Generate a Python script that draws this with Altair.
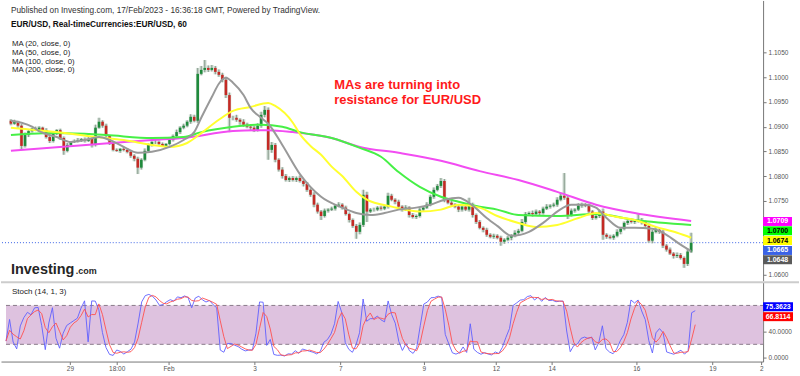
import altair as alt
import pandas as pd

# ---------------- data (EUR/USD, 2-hour candles, prices in pips above 1.0600) ----------------
BASE = 1.0600
first_open_pips = 312
close_pips = [
    306, 310, 302, 261, 283, 291, 296, 293, 298, 293,
    279, 271, 285, 293, 277, 251, 263, 269, 271, 273,
    275, 271, 275, 263, 298, 310, 302, 281, 267, 253,
    251, 255, 253, 249, 241, 235, 217, 233, 251, 263,
    269, 269, 265, 261, 265, 273, 281, 289, 298, 302,
    310, 320, 312, 407, 415, 419, 415, 419, 411, 405,
    395, 364, 318, 318, 314, 310, 304, 300, 298, 293,
    302, 324, 334, 253, 263, 233, 213, 200, 192, 196,
    192, 196, 190, 184, 172, 162, 142, 128, 119, 130,
    132, 134, 140, 142, 136, 123, 111, 99, 87, 101,
    162, 128, 132, 132, 136, 134, 138, 160, 152, 148,
    138, 132, 136, 121, 117, 119, 132, 136, 142, 158,
    172, 180, 190, 152, 146, 142, 138, 132, 138, 132,
    142, 121, 107, 95, 91, 81, 77, 79, 75, 67,
    71, 75, 79, 85, 89, 107, 123, 125, 123, 128,
    125, 134, 138, 140, 142, 152, 160, 156, 121, 130,
    132, 140, 142, 140, 128, 115, 119, 128, 81, 77,
    75, 79, 87, 93, 105, 109, 107, 109, 111, 107,
    99, 69, 87, 91, 87, 59, 51, 43, 38, 40,
    34, 22, 47, 65,
]
hi_wick = [
    3, 4, 2, 3, 5, 3, 2, 4, 3, 2,
    4, 3, 5, 2, 3, 3, 4, 2, 3, 4,
    2, 3, 4, 3, 6, 8, 3, 4, 2, 3,
    3, 2, 4, 3, 2, 3, 4, 3, 5, 3,
    2, 4, 3, 3, 2, 4, 3, 5, 3, 4,
    3, 5, 4, 12, 8, 16, 5, 6, 4, 5,
    4, 6, 5, 4, 6, 3, 5, 4, 3, 4,
    5, 6, 8, 5, 6, 4, 3, 5, 4, 3,
    4, 3, 5, 3, 4, 3, 5, 4, 3, 4,
    3, 4, 3, 5, 3, 4, 3, 3, 4, 5,
    10, 6, 3, 4, 3, 4, 3, 6, 4, 3,
    4, 3, 5, 3, 4, 3, 4, 3, 5, 4,
    5, 4, 6, 4, 3, 5, 3, 4, 3, 5,
    14, 4, 3, 4, 3, 4, 3, 4, 3, 4,
    3, 4, 3, 5, 4, 6, 4, 3, 5, 4,
    3, 4, 5, 3, 4, 5, 6, 46, 5, 4,
    3, 5, 4, 3, 4, 3, 5, 4, 6, 3,
    4, 3, 5, 4, 3, 5, 4, 3, 14, 4,
    3, 5, 4, 6, 3, 4, 3, 4, 3, 5,
    4, 3, 6, 20,
]
lo_wick = [
    3, 2, 4, 8, 3, 4, 3, 2, 4, 3,
    3, 4, 3, 2, 4, 8, 3, 4, 2, 3,
    4, 3, 2, 5, 3, 2, 4, 3, 4, 3,
    2, 4, 3, 3, 4, 5, 13, 4, 3, 2,
    3, 4, 3, 2, 4, 3, 3, 2, 4, 3,
    3, 4, 3, 4, 3, 5, 4, 3, 5, 4,
    5, 6, 29, 5, 4, 6, 4, 3, 5, 4,
    3, 4, 5, 20, 6, 5, 4, 5, 3, 4,
    3, 4, 3, 5, 4, 4, 5, 4, 8, 3,
    4, 3, 4, 3, 4, 3, 5, 4, 14, 5,
    4, 21, 3, 4, 3, 4, 3, 4, 3, 5,
    3, 4, 3, 5, 3, 4, 3, 4, 3, 3,
    4, 3, 4, 5, 3, 4, 3, 5, 4, 3,
    4, 5, 4, 3, 5, 4, 3, 4, 3, 8,
    4, 3, 5, 3, 4, 3, 4, 3, 5, 3,
    4, 3, 3, 4, 3, 4, 3, 4, 8, 3,
    4, 3, 4, 3, 5, 4, 3, 4, 10, 4,
    3, 4, 3, 5, 3, 4, 3, 4, 3, 5,
    4, 4, 5, 3, 4, 5, 4, 3, 5, 4,
    3, 8, 4, 3,
]

# moving averages (bar index, pips)
ma20_k = [0, 3, 6, 8, 13, 17, 21, 25, 28, 32, 36, 40, 45, 49, 52, 54, 57, 59, 61, 63, 66, 68, 71, 73, 77, 82,
          88, 94, 98, 102, 106, 110, 115, 119, 123, 127, 131, 135, 138, 142, 147, 151, 155, 159, 163, 166, 169,
          173, 177, 182, 186, 190, 193]
ma20_p = [312, 308, 300, 291, 279, 269, 273, 279, 273, 259, 247, 249, 259, 273, 289, 318, 360, 387, 399, 389, 364,
          338, 318, 306, 263, 204, 158, 136, 125, 121, 125, 132, 136, 142, 152, 156, 140, 115, 99, 79, 87, 105,
          128, 142, 142, 136, 115, 95, 95, 93, 81, 61, 48]
ma50_k = [0, 13, 24, 32, 40, 45, 50, 54, 59, 63, 68, 73, 75, 80, 82, 85, 88, 91, 94, 98, 101, 108, 116, 122, 127,
          133, 138, 144, 149, 155, 161, 166, 172, 177, 183, 189, 193]
ma50_p = [298, 289, 279, 273, 263, 259, 267, 287, 314, 332, 340, 348, 342, 308, 285, 261, 243, 219, 200, 168, 152,
          138, 128, 132, 142, 136, 119, 105, 97, 101, 115, 125, 117, 111, 97, 85, 75]
ma100_k = [0, 13, 27, 40, 49, 54, 63, 71, 77, 82, 91, 99, 105, 110, 116, 122, 127, 133, 138, 144, 155, 166, 177, 193]
ma100_p = [283, 287, 283, 277, 279, 289, 300, 304, 300, 289, 277, 257, 239, 208, 178, 158, 148, 138, 132, 121, 119,
           123, 111, 101]
ma200_k = [0, 25, 40, 49, 63, 73, 80, 91, 99, 110, 122, 133, 144, 155, 166, 177, 193]
ma200_p = [251, 265, 273, 277, 291, 293, 289, 277, 259, 247, 231, 210, 192, 168, 142, 125, 109]

# time axis labels (bar index where they sit)
tick_k = [17.9, 31.0, 45.5, 69.6, 93.6, 117.0, 137.2, 152.8, 176.5, 197.8, 211.5]
tick_lab = ["29", "18:00", "Feb", "3", "7", "9", "12", "14", "16", "19", "2"]

price_tick_values = [1.0600, 1.0750, 1.0800, 1.0850, 1.0900, 1.0950, 1.1000, 1.1050]
last_price = 1.0665
price_labels = ["1.0709", "1.0700", "1.0674", "1.0665", "1.0648"]
price_label_values = [1.0709, 1.0700, 1.0674, 1.0665, 1.0648]
price_label_bg = ["#ff00ff", "#00ff00", "#ffff00", "#3a62e6", "#5a5a5a"]
price_label_fg = ["#ffffff", "#000000", "#000000", "#ffffff", "#ffffff"]

stoch_levels = [20, 80]
stoch_tick_values = [0, 40]
stoch_labels = ["75.3623", "66.8114"]
stoch_label_values = [75.3623, 66.8114]
stoch_label_bg = ["#0000ff", "#ff0000"]

header1 = "Published on Investing.com, 17/Feb/2023 - 16:36:18 GMT, Powered by TradingView."
header2 = "EUR/USD, Real-timeCurrencies:EUR/USD, 60"
ma_legend = ["MA (20, close, 0)", "MA (50, close, 0)", "MA (100, close, 0)", "MA (200, close, 0)"]
note_lines = ["MAs are turning into", "resistance for EUR/USD"]
stoch_title = "Stoch (14, 1, 3)"

# ---------------- build tables ----------------
def to_price(p):
    return BASE + p / 10000.0

rows = []
prev = first_open_pips
for i, c in enumerate(close_pips):
    o = prev
    rows.append(dict(k=i, open=to_price(o), close=to_price(c),
                     high=to_price(max(o, c) + hi_wick[i]),
                     low=to_price(min(o, c) - lo_wick[i]),
                     dir="up" if c >= o else "down"))
    prev = c
candles = pd.DataFrame(rows)

def ma_df(ks, ps):
    return pd.DataFrame({"k": ks, "p": [to_price(v) for v in ps]})

# ---------------- style ----------------
FONT = "Liberation Sans"
W = 764
PH = 281
SH = 80
KMAX = 212.0
xscale = alt.Scale(domain=[-1.4, KMAX], nice=False, zero=False)
pscale = alt.Scale(domain=[1.058785, 1.115567], nice=False, zero=False)
sscale = alt.Scale(domain=[-6.6, 116.5], nice=False, zero=False)

p_axis = alt.Axis(orient="right", values=price_tick_values, format=".4f", labelFontSize=6.5,
                  labelColor="#555555", labelFont=FONT, tickSize=3, tickColor="#777777",
                  domainColor="#777777", grid=False, title=None, labelPadding=2)
s_axis = alt.Axis(orient="right", values=stoch_tick_values, format=".4f", labelFontSize=6.5,
                  labelColor="#555555", labelFont=FONT, tickSize=3, tickColor="#777777",
                  domainColor="#777777", grid=False, title=None, labelPadding=2)
label_expr = "".join(f"datum.value == {v} ? '{l}' : " for v, l in zip(tick_k, tick_lab)) + "''"
x_axis = alt.Axis(orient="bottom", values=tick_k, labelExpr=label_expr, labelFontSize=6.5,
                  labelColor="#555555", labelFont=FONT, tickSize=3, tickColor="#777777",
                  domainColor="#777777", grid=False, title=None, labelPadding=1,
                  labelFlush=False, labelOverlap=False)

XP = lambda f: alt.X(f, type="quantitative", scale=xscale, axis=None)
YP = lambda f: alt.Y(f, type="quantitative", scale=pscale, axis=p_axis)
XS = lambda f: alt.X(f, type="quantitative", scale=xscale, axis=x_axis)
YS = lambda f: alt.Y(f, type="quantitative", scale=sscale, axis=s_axis)


def text_layer(txt, x, y, size, color="#222222", weight="normal", baseline="middle", align="left"):
    return alt.Chart(pd.DataFrame({"t": [txt]})).mark_text(
        font=FONT, fontSize=size, fontWeight=weight, color=color, align=align, baseline=baseline
    ).encode(x=alt.value(x), y=alt.value(y), text="t:N")


# ---------------- price panel ----------------
layers = []
layers.append(alt.Chart(pd.DataFrame({"p": [last_price]})).mark_rule(
    color="#3a62e6", strokeDash=[1, 2], strokeWidth=1).encode(y=YP("p")))
# soft halo behind each candle
layers.append(alt.Chart(candles).mark_bar(width=3.6, color="#d5e0d8").encode(
    x=XP("k"), y=YP("low"), y2="high:Q"))
layers.append(alt.Chart(candles).mark_rule(color="#8fa294", strokeWidth=1.2).encode(
    x=XP("k"), y=YP("low"), y2="high:Q"))
layers.append(alt.Chart(candles).mark_bar(width=2.6).encode(
    x=XP("k"), y=YP("open"), y2="close:Q",
    color=alt.Color("dir:N", scale=alt.Scale(domain=["up", "down"], range=["#1f8a3c", "#c42a25"]),
                    legend=None)))
for ks, ps, col in [(ma200_k, ma200_p, "#f24cf2"), (ma100_k, ma100_p, "#46f046"),
                    (ma50_k, ma50_p, "#ffff2e"), (ma20_k, ma20_p, "#999999")]:
    layers.append(alt.Chart(ma_df(ks, ps)).mark_line(color=col, strokeWidth=2, interpolate="monotone")
                  .encode(x=XP("k"), y=YP("p")))

layers.append(text_layer(header1, 10, 11, 8.3, color="#333333"))
layers.append(text_layer(header2, 10, 25, 8.3, color="#111111", weight="bold"))
for i, t in enumerate(ma_legend):
    layers.append(text_layer(t, 11, 44 + i * 8.6, 7.8))
layers.append(text_layer(note_lines[0], 334, 89, 13, color="#ff1a1a", weight="bold", baseline="alphabetic"))
layers.append(text_layer(note_lines[1], 334, 104, 13, color="#ff1a1a", weight="bold", baseline="alphabetic"))
layers.append(text_layer("Investing", 10, 274, 14.5, color="#262626", weight="bold", baseline="alphabetic"))
layers.append(text_layer(".com", 75, 274, 9, color="#262626", weight="bold", baseline="alphabetic"))

# right-hand value boxes (stacked so they do not overlap)
price_nudge = [0.5, 5.4, 2.3, 7.8, 8.7]
for i in range(len(price_labels)):
    d = pd.DataFrame({"p": [price_label_values[i]], "t": [price_labels[i]]})
    layers.append(alt.Chart(d).mark_rule(strokeWidth=9, color=price_label_bg[i], strokeCap="butt",
                                         yOffset=price_nudge[i])
                  .encode(x=alt.value(W), x2=alt.value(W + 29), y=YP("p")))
    layers.append(alt.Chart(d).mark_text(font=FONT, fontSize=7, fontWeight="bold", color=price_label_fg[i],
                                         align="center", baseline="middle", dy=price_nudge[i])
                  .encode(x=alt.value(W + 14.5), y=YP("p"), text="t:N"))

price = alt.layer(*layers).properties(width=W, height=PH)

# ---------------- stochastic panel ----------------
band = pd.DataFrame({"a": [0.0], "b": [KMAX], "lo": [stoch_levels[0]], "hi": [stoch_levels[1]]})
lv = pd.DataFrame({"a": [0.0, 0.0], "b": [KMAX, KMAX], "lvl": stoch_levels})

slayers = []
slayers.append(alt.Chart(band).mark_rect(color="#dec2df").encode(
    x=XS("a"), x2="b:Q", y=YS("lo"), y2="hi:Q"))
slayers.append(alt.Chart(lv).mark_rule(color="#8a7a8a", strokeDash=[4, 3], strokeWidth=1).encode(
    x=XS("a"), x2="b:Q", y=YS("lvl")))

stoch_base = alt.Chart(candles).transform_window(
    ll="min(low)", hh="max(high)", frame=[-6, 0], sort=[alt.SortField("k")]
).transform_calculate(
    K="100 * (datum.close - datum.ll) / (datum.hh - datum.ll)"
).transform_window(
    D="mean(K)", frame=[-2, 0], sort=[alt.SortField("k")]
)
slayers.append(stoch_base.mark_line(color="#6060ff", strokeWidth=1, opacity=0.9).encode(x=XS("k"), y=YS("K")))
slayers.append(stoch_base.mark_line(color="#ff5050", strokeWidth=1, opacity=0.9).encode(x=XS("k"), y=YS("D")))

slayers.append(alt.Chart(pd.DataFrame({"t": [0]})).mark_rule(color="#cccccc", strokeWidth=2).encode(
    x=alt.value(0), x2=alt.value(800), y=alt.value(0.5)))
slayers.append(text_layer(stoch_title, 11, 10, 8, color="#222222"))

stoch_nudge = [-1.7, 2.7]
for i in range(len(stoch_labels)):
    d = pd.DataFrame({"v": [stoch_label_values[i]], "t": [stoch_labels[i]]})
    slayers.append(alt.Chart(d).mark_rule(strokeWidth=9, color=stoch_label_bg[i], strokeCap="butt",
                                          yOffset=stoch_nudge[i])
                   .encode(x=alt.value(W), x2=alt.value(W + 30), y=YS("v")))
    slayers.append(alt.Chart(d).mark_text(font=FONT, fontSize=7, fontWeight="bold", color="#ffffff",
                                          align="center", baseline="middle", dy=stoch_nudge[i])
                   .encode(x=alt.value(W + 15), y=YS("v"), text="t:N"))

stoch = alt.layer(*slayers).properties(width=W, height=SH)

chart = alt.vconcat(price, stoch, spacing=0).properties(
    padding={"left": 0, "top": 0, "right": 0, "bottom": 0}, background="white"
).configure_view(stroke=None)

chart.save("out.html", embed_options={"renderer": "svg", "actions": False})
